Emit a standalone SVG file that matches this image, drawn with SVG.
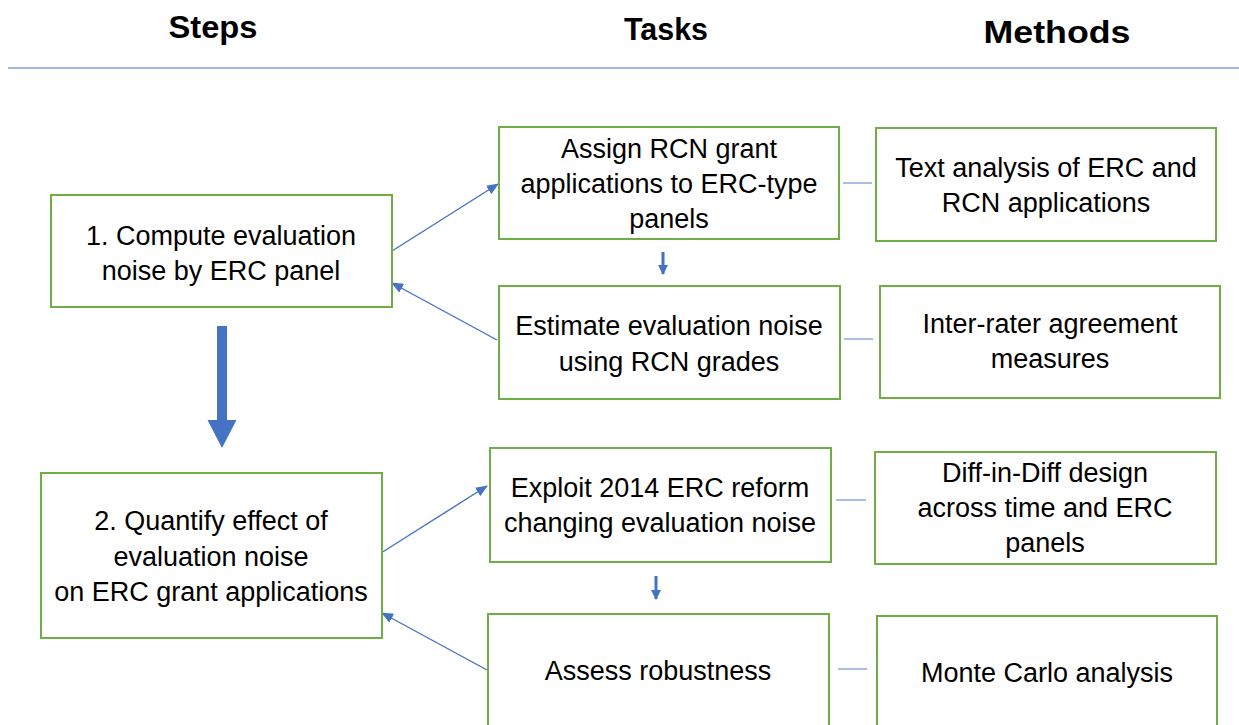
<svg xmlns="http://www.w3.org/2000/svg" width="1239" height="725" viewBox="0 0 1239 725">
<style>
.box{fill:#fff;stroke:#70AD47;stroke-width:2}
.t{font-family:"Liberation Sans",Arial,sans-serif;font-size:27px;fill:#000;text-anchor:middle}
.h{font-family:"Liberation Sans",Arial,sans-serif;font-size:32px;font-weight:bold;fill:#000;text-anchor:middle}
.c{stroke:#4472C4;stroke-width:1.4;fill:none}
.l{stroke:#6F93D6;stroke-width:1.2;fill:none}
.d{stroke:#4472C4;stroke-width:3;fill:none}
</style>
<defs>
<marker id="ah" markerWidth="12" markerHeight="10" refX="11" refY="5" orient="auto" markerUnits="userSpaceOnUse">
<path d="M0,0 L12,5 L0,10 Z" fill="#4472C4"/>
</marker>
<marker id="dh" markerWidth="10" markerHeight="10" refX="9" refY="5" orient="auto" markerUnits="userSpaceOnUse">
<path d="M0,0 L10,5 L0,10 Z" fill="#4472C4"/>
</marker>
</defs>
<rect width="1239" height="725" fill="#fff"/>
<g id="header">
<text class="h" x="213" y="38" textLength="89" lengthAdjust="spacingAndGlyphs">Steps</text>
<text class="h" x="666" y="40" textLength="84" lengthAdjust="spacingAndGlyphs">Tasks</text>
<text class="h" x="1057" y="43" textLength="147" lengthAdjust="spacingAndGlyphs">Methods</text>
<line x1="8" y1="68" x2="1239" y2="68" stroke="#4472C4" stroke-width="1.2"/>
</g>
<g id="connectors">
<line class="c" x1="392" y1="251" x2="498" y2="184" marker-end="url(#ah)"/>
<line class="c" x1="497" y1="340" x2="392" y2="283" marker-end="url(#ah)"/>
<line class="c" x1="381" y1="553" x2="487" y2="486" marker-end="url(#ah)"/>
<line class="c" x1="487" y1="670" x2="382" y2="613" marker-end="url(#ah)"/>
<line class="d" x1="663" y1="252" x2="663" y2="274" marker-end="url(#dh)"/>
<line class="d" x1="656" y1="576" x2="656" y2="599" marker-end="url(#dh)"/>
<line class="l" x1="843" y1="183" x2="872" y2="183"/>
<line class="l" x1="844" y1="339" x2="873" y2="339"/>
<line class="l" x1="836" y1="500" x2="866" y2="500"/>
<line class="l" x1="838" y1="669" x2="867" y2="669"/>
<path d="M217,326 H227 V420 H236.5 L222,448 L207.5,420 H217 Z" fill="#4472C4"/>
</g>
<g id="step1">
<rect class="box" x="51" y="195" width="341" height="112"/>
<text class="t" x="221" y="245">1. Compute evaluation</text>
<text class="t" x="221" y="280">noise by ERC panel</text>
</g>
<g id="step2">
<rect class="box" x="41" y="473" width="341" height="165"/>
<text class="t" x="211" y="530">2. Quantify effect of</text>
<text class="t" x="211" y="566">evaluation noise</text>
<text class="t" x="211" y="601">on ERC grant applications</text>
</g>
<g id="task1">
<rect class="box" x="499" y="127" width="340" height="112"/>
<text class="t" x="669" y="158">Assign RCN grant</text>
<text class="t" x="669" y="193">applications to ERC-type</text>
<text class="t" x="669" y="228">panels</text>
</g>
<g id="task2">
<rect class="box" x="499" y="286" width="341" height="113"/>
<text class="t" x="669" y="335">Estimate evaluation noise</text>
<text class="t" x="669" y="371">using RCN grades</text>
</g>
<g id="task3">
<rect class="box" x="490" y="448" width="341" height="114"/>
<text class="t" x="660" y="497">Exploit 2014 ERC reform</text>
<text class="t" x="660" y="532">changing evaluation noise</text>
</g>
<g id="task4">
<rect class="box" x="488" y="614" width="341" height="130"/>
<text class="t" x="658" y="680">Assess robustness</text>
</g>
<g id="method1">
<rect class="box" x="876" y="128" width="340" height="113"/>
<text class="t" x="1046" y="177">Text analysis of ERC and</text>
<text class="t" x="1046" y="212">RCN applications</text>
</g>
<g id="method2">
<rect class="box" x="880" y="286" width="340" height="112"/>
<text class="t" x="1050" y="333">Inter-rater agreement</text>
<text class="t" x="1050" y="368">measures</text>
</g>
<g id="method3">
<rect class="box" x="875" y="452" width="341" height="112"/>
<text class="t" x="1045" y="482">Diff-in-Diff design</text>
<text class="t" x="1045" y="517">across time and ERC</text>
<text class="t" x="1045" y="552">panels</text>
</g>
<g id="method4">
<rect class="box" x="877" y="616" width="340" height="130"/>
<text class="t" x="1047" y="682">Monte Carlo analysis</text>
</g>
</svg>
